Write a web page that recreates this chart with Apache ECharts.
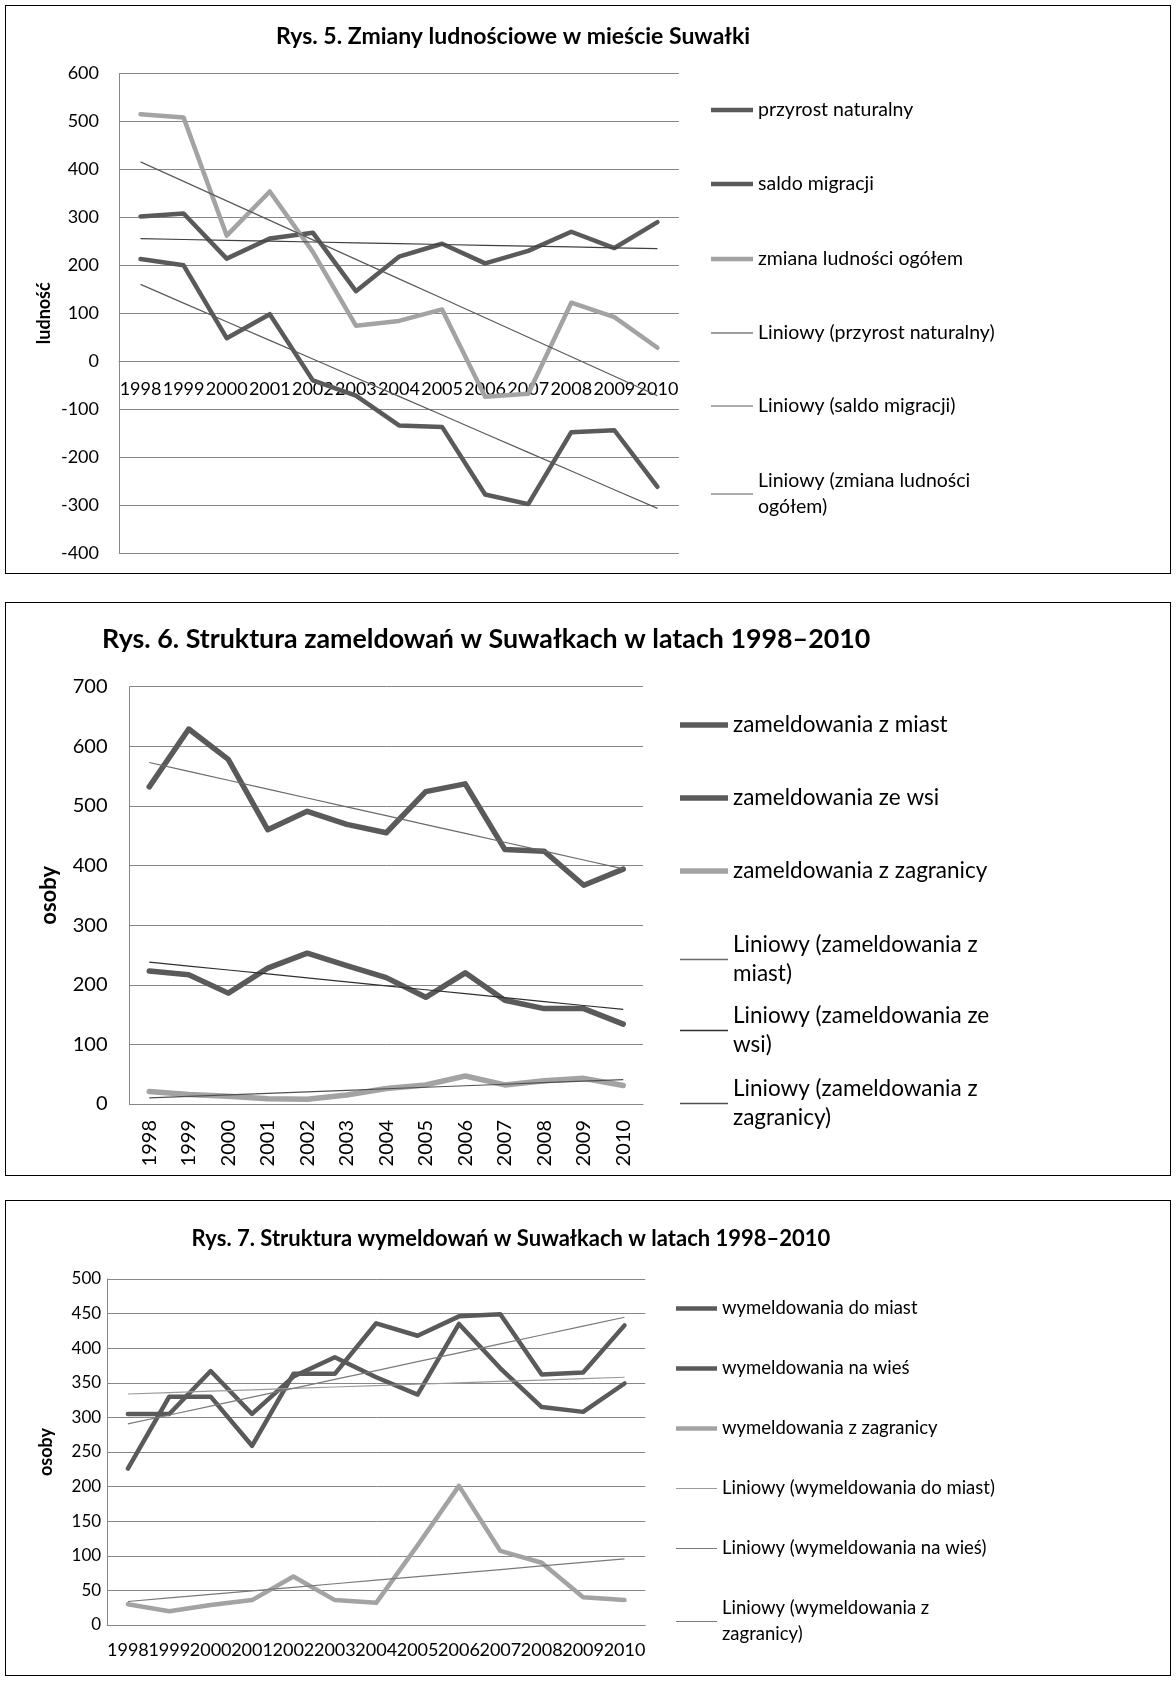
<!DOCTYPE html>
<html>
<head>
<meta charset="utf-8">
<script src="https://cdn.jsdelivr.net/npm/echarts@6/dist/echarts.min.js"></script>
<style>
html,body{margin:0;padding:0;background:#fff;}
.box{position:absolute;left:5px;width:1166px;border:1px solid #000;box-sizing:border-box;background:#fff;}
</style>
</head>
<body>
<div id="c1" class="box" style="top:5px;height:569px;"></div>
<div id="c2" class="box" style="top:602px;height:574px;"></div>
<div id="c3" class="box" style="top:1200px;height:476px;"></div>
<script>
const years = ['1998','1999','2000','2001','2002','2003','2004','2005','2006','2007','2008','2009','2010'];

// Rys. 5
const przyrost = [302,308,214,256,268,146,218,245,204,230,270,236,290];
const saldo    = [213,200,48,98,-40,-72,-134,-137,-278,-298,-148,-144,-262];
const zmiana   = [515,508,262,354,228,74,84,108,-74,-68,122,92,28];

// Rys. 6
const zamMiasta = [532,629,578,460,491,469,455,524,537,427,424,367,394];
const zamWies   = [223,217,186,228,253,232,212,179,220,174,160,160,134];
const zamZagr   = [21,16,13,9,8,15,26,32,47,32,39,43,31];

// Rys. 7
const wymMiasta = [305,305,367,305,359,387,358,333,435,371,315,308,349];
const wymWies   = [226,330,330,259,363,363,436,418,446,449,362,365,433];
const wymZagr   = [30,20,29,36,70,36,32,115,201,107,90,40,36];

const FONT = 'Lato';
const DARK = '#5a5a5a';
const LIGHT = '#a3a3a3';
const GRID = '#878787';

function trend(arr){
  const n = arr.length;
  let sx=0, sy=0, sxy=0, sxx=0;
  arr.forEach((y,i)=>{sx+=i;sy+=y;sxy+=i*y;sxx+=i*i;});
  const b = (n*sxy - sx*sy)/(n*sxx - sx*sx);
  const a = (sy - b*sx)/n;
  return arr.map((_,i)=>+(a+b*i).toFixed(2));
}

function mainSeries(name, data, color, width){
  return {name, type:'line', data, symbol:'none', showSymbol:false, smooth:false,
    lineStyle:{color, width, cap:'round', join:'round'}, itemStyle:{color}, z:3};
}
function trendSeries(name, data, color){
  return {name, type:'line', data, symbol:'none', showSymbol:false,
    lineStyle:{color, width:1.2}, itemStyle:{color}, z:4};
}
const wrapMap = {
  'Liniowy (zmiana ludności ogółem)':'Liniowy (zmiana ludności\nogółem)',
  'Liniowy (zameldowania z miast)':'Liniowy (zameldowania z\nmiast)',
  'Liniowy (zameldowania ze wsi)':'Liniowy (zameldowania ze\nwsi)',
  'Liniowy (zameldowania z zagranicy)':'Liniowy (zameldowania z\nzagranicy)',
  'Liniowy (wymeldowania z zagranicy)':'Liniowy (wymeldowania z\nzagranicy)'
};
function legendItem(name, left, centerY, fontSize, lineHeight, iw, thick){
  return {
    data:[{name, icon:'rect'}], orient:'vertical', left, top: centerY - lineHeight/2,
    itemWidth: iw, itemHeight: thick, itemGap: 0, padding:0,
    selectedMode:false,
    textStyle:{fontFamily:FONT, fontSize, color:'#000', lineHeight},
    formatter: function(n){ return wrapMap[n] || n; }
  };
}

function axes(opts){
  return {
    xAxis:{type:'category', data:years, boundaryGap:true, offset:opts.xoffset||0, z:1,
      axisLine:{show:true, onZero:false, lineStyle:{color:GRID, width:1}},
      axisTick:{show:false},
      axisLabel:{interval:0, color:'#000', fontFamily:FONT, fontSize:opts.xfs, margin:opts.xmargin, rotate:opts.xrot||0},
      splitLine:{show:false}},
    yAxis:{type:'value', min:opts.min, max:opts.max, interval:opts.interval,
      name:opts.yname, nameLocation:'middle', nameGap:opts.nameGap, nameRotate:90,
      nameTextStyle:{fontFamily:FONT, fontWeight:'bold', fontSize:opts.nfs, color:'#000'},
      axisLine:{show:true, onZero:false, lineStyle:{color:GRID, width:1}},
      axisTick:{show:false},
      axisLabel:{color:'#000', fontFamily:FONT, fontSize:opts.yfs, margin:opts.ymargin},
      splitLine:{show:true, lineStyle:{color:GRID, width:1}}}
  };
}

// ---------- Chart 1 ----------
const c1 = echarts.init(document.getElementById('c1'), null, {renderer:'canvas'});
const n1 = ['przyrost naturalny','saldo migracji','zmiana ludności ogółem',
  'Liniowy (przyrost naturalny)','Liniowy (saldo migracji)','Liniowy (zmiana ludności ogółem)'];
const l1y = [104,178,253,327,400,475];
const t1 = [4.5,4.5,4.5,1.2,1.2,1.2];
const g1 = {left:113, top:67.5, width:560, height:479.5};
const y1min = -400, y1max = 600;
// place the category axis (and its labels) on the zero line, as in the original
const x1offset = -(0 - y1min) / (y1max - y1min) * g1.height;
c1.setOption(Object.assign({
  animation:false,
  title:{text:'Rys. 5. Zmiany ludnościowe w mieście Suwałki', left:502, top:14, textAlign:'center',
    textStyle:{fontFamily:FONT, fontWeight:'bold', fontSize:23, color:'#000'}},
  grid:g1,
  legend: n1.map((n,i)=>legendItem(n, 705, l1y[i], 19.5, 26, 42, t1[i])),
  series:[
    mainSeries(n1[0], przyrost, DARK, 4.5),
    mainSeries(n1[1], saldo, DARK, 4.5),
    mainSeries(n1[2], zmiana, LIGHT, 4.5),
    trendSeries(n1[3], trend(przyrost), '#404040'),
    trendSeries(n1[4], trend(saldo), '#5a5a5a'),
    trendSeries(n1[5], trend(zmiana), '#5a5a5a')
  ]
}, axes({min:y1min,max:y1max,interval:100,yname:'ludność',nameGap:66,nfs:18,xfs:18,xmargin:19,xoffset:x1offset,yfs:18,ymargin:20})));

// ---------- Chart 2 ----------
const c2 = echarts.init(document.getElementById('c2'), null, {renderer:'canvas'});
const n2 = ['zameldowania z miast','zameldowania ze wsi','zameldowania z zagranicy',
  'Liniowy (zameldowania z miast)','Liniowy (zameldowania ze wsi)','Liniowy (zameldowania z zagranicy)'];
const l2y = [122,195,268,342,413,486];
const t2 = [5.5,5.5,5.5,1.3,1.3,1.3];
c2.setOption(Object.assign({
  animation:false,
  title:{text:'Rys. 6. Struktura zameldowań w Suwałkach w latach 1998\u20132010', left:91, top:18,
    textStyle:{fontFamily:FONT, fontWeight:'bold', fontSize:26.8, color:'#000'}},
  grid:{left:123.5, top:83.7, width:513.5, height:417.3},
  legend: n2.map((n,i)=>legendItem(n, 674, l2y[i], 22.5, 29, 48, t2[i])),
  series:[
    mainSeries(n2[0], zamMiasta, DARK, 5.5),
    mainSeries(n2[1], zamWies, DARK, 5.5),
    mainSeries(n2[2], zamZagr, LIGHT, 5.5),
    trendSeries(n2[3], trend(zamMiasta), '#6a6a6a'),
    trendSeries(n2[4], trend(zamWies), '#303030'),
    trendSeries(n2[5], trend(zamZagr), '#505050')
  ]
}, axes({min:0,max:700,interval:100,yname:'osoby',nameGap:70,nfs:22,xfs:20,xmargin:16,xrot:90,yfs:20,ymargin:22})));

// ---------- Chart 3 ----------
const c3 = echarts.init(document.getElementById('c3'), null, {renderer:'canvas'});
const n3 = ['wymeldowania do miast','wymeldowania na wieś','wymeldowania z zagranicy',
  'Liniowy (wymeldowania do miast)','Liniowy (wymeldowania na wieś)','Liniowy (wymeldowania z zagranicy)'];
const l3y = [107.5,167.5,227.5,287.5,347.5,407.5];
const t3 = [4.5,4.5,4.5,1.2,1.2,1.2];
c3.setOption(Object.assign({
  animation:false,
  title:{text:'Rys. 7. Struktura wymeldowań w Suwałkach w latach 1998\u20132010', left:500, top:22, textAlign:'center',
    textStyle:{fontFamily:FONT, fontWeight:'bold', fontSize:22, color:'#000'}},
  grid:{left:101.2, top:78, width:538, height:346},
  legend: n3.map((n,i)=>legendItem(n, 670, l3y[i], 18.5, 26, 41, t3[i])),
  series:[
    mainSeries(n3[0], wymMiasta, DARK, 4.5),
    mainSeries(n3[1], wymWies, DARK, 4.5),
    mainSeries(n3[2], wymZagr, LIGHT, 4.5),
    trendSeries(n3[3], trend(wymMiasta), '#9a9a9a'),
    trendSeries(n3[4], trend(wymWies), '#7a7a7a'),
    trendSeries(n3[5], trend(wymZagr), '#7a7a7a')
  ]
}, axes({min:0,max:500,interval:50,yname:'osoby',nameGap:52,nfs:18,xfs:18,xmargin:16,yfs:17,ymargin:6})));
</script>
</body>
</html>
